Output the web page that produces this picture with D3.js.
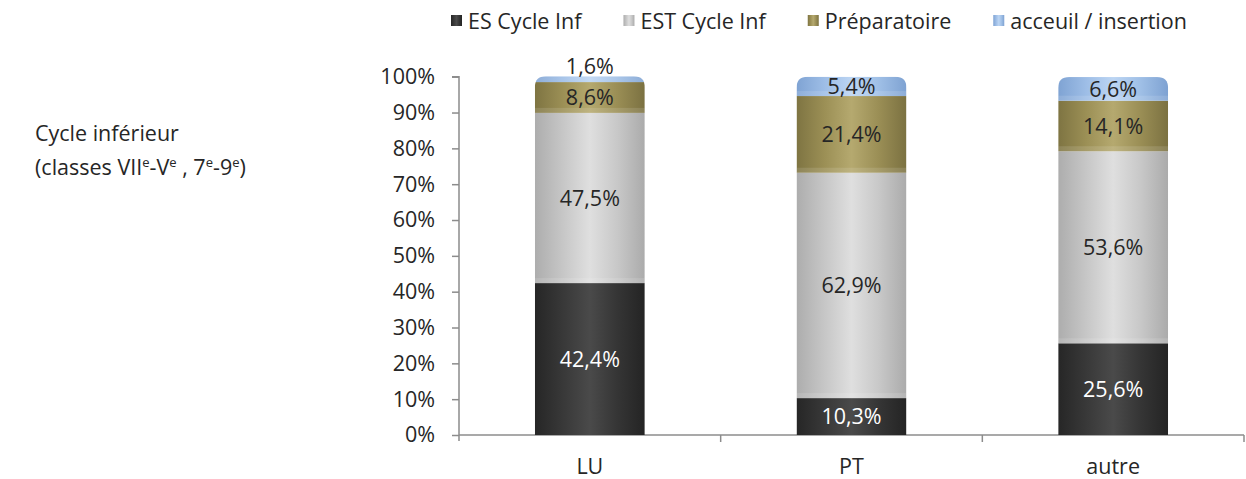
<!DOCTYPE html>
<html><head><meta charset="utf-8">
<script src="https://cdn.jsdelivr.net/npm/d3@7/dist/d3.min.js"></script>
<style>
body{margin:0;background:#fff;}
text{font-family:"Open Sans",sans-serif;fill:#262626;}
</style></head>
<body><svg id="c" width="1246" height="479"></svg>
<script>
const categories = ["LU","PT","autre"];
const seriesNames = ["ES Cycle Inf","EST Cycle Inf","Préparatoire","acceuil / insertion"];
const esCycleInf = [42.4, 10.3, 25.6];
const estCycleInf = [47.5, 62.9, 53.6];
const preparatoire = [8.6, 21.4, 14.1];
const accueil = [1.6, 5.4, 6.6];
const yTicks = [0,10,20,30,40,50,60,70,80,90,100];

const seriesValues = [esCycleInf, estCycleInf, preparatoire, accueil];
const grads = [
  ["#262626","#383838","#4a4a4a","#353535","#242424"],
  ["#adadad","#c6c6c6","#dfdfdf","#c8c8c8","#ababab"],
  ["#7e7442","#9b8f55","#b5a96f","#9a8e55","#7b7141"],
  ["#7fa3d3","#9dbde6","#bcd5f3","#9fbfe6","#7ea2d2"]
];
const labelColors = ["#ffffff","#262626","#262626","#262626"];
const FS = "21.5px";

const svg = d3.select("#c");
const defs = svg.append("defs");
grads.forEach((g,i)=>{
  const lg = defs.append("linearGradient").attr("id","g"+i).attr("x1","0").attr("x2","1").attr("y1","0").attr("y2","0");
  g.forEach((c,j)=>lg.append("stop").attr("offset",(j/(g.length-1)*100)+"%").attr("stop-color",c));
});

const x0 = 459, x1 = 1244, yTop = 76.7, yBot = 435;
const x = d3.scaleBand().domain(categories).range([x0,x1]).paddingInner(0.58).paddingOuter(0.29);
const y = d3.scaleLinear().domain([0,100]).range([yBot,yTop]);

// y axis
const yAxis = d3.axisLeft(y).tickValues(yTicks).tickFormat(d=>d+"%").tickSize(7).tickPadding(17);
const gy = svg.append("g").attr("transform",`translate(${x0},0)`).call(yAxis);
gy.select(".domain").attr("stroke","#8c8c8c").attr("stroke-width",1.5).attr("d",`M-7,${yTop}H0V${yBot+6}`);
gy.selectAll(".tick line").attr("stroke","#8c8c8c").attr("stroke-width",1.5);
gy.selectAll(".tick text").attr("font-size",FS).attr("fill","#262626").attr("font-family","Open Sans");

// x axis
const gx = svg.append("g").attr("transform",`translate(0,${yBot})`);
gx.append("line").attr("x1",x0).attr("x2",x1).attr("stroke","#8c8c8c").attr("stroke-width",1.5);
categories.forEach((c,i)=>{
  const bx = x0 + (i+1)*(x1-x0)/categories.length;
  gx.append("line").attr("x1",bx).attr("x2",bx).attr("y1",0).attr("y2",7).attr("stroke","#8c8c8c").attr("stroke-width",1.5);
});
gx.selectAll("text.cat").data(categories).join("text").attr("class","cat")
  .attr("x",d=>x(d)+x.bandwidth()/2).attr("y",39).attr("text-anchor","middle")
  .attr("font-size",FS).text(d=>d);

// stacked data
const rows = categories.map((c,i)=>{const r={cat:c}; seriesNames.forEach((s,k)=>r[s]=seriesValues[k][i]); return r;});
const stack = d3.stack().keys(seriesNames)(rows);

// clip per bar with rounded top
categories.forEach((c,i)=>{
  const total = d3.sum(seriesValues, s=>s[i]);
  const bx = x(c), bw = x.bandwidth(), ty = y(total), by = y(0), r = 11;
  defs.append("clipPath").attr("id","clip"+i).append("path")
    .attr("d",`M${bx},${by}V${ty+r}Q${bx},${ty} ${bx+r},${ty}H${bx+bw-r}Q${bx+bw},${ty} ${bx+bw},${ty+r}V${by}Z`);
});

const gBars = svg.append("g");
categories.forEach((c,i)=>{
  const gb = gBars.append("g").attr("clip-path",`url(#clip${i})`);
  stack.forEach((layer,k)=>{
    const d = layer[i];
    const h = y(d[0])-y(d[1]);
    gb.append("rect").attr("x",x(c)).attr("width",x.bandwidth())
      .attr("y",y(d[1])).attr("height",h).attr("fill",`url(#g${k})`);
    // soft light band at segment bottom (cylinder rim)
    if (k > 0) gb.append("rect").attr("x",x(c)).attr("width",x.bandwidth())
      .attr("y",y(d[0])-Math.min(5,h)).attr("height",Math.min(5,h)).attr("fill","#ffffff").attr("opacity",0.12);
  });
});

// labels
stack.forEach((layer,k)=>{
  layer.forEach((d,i)=>{
    const c = categories[i];
    const h = y(d[0])-y(d[1]);
    let cy = (y(d[0])+y(d[1]))/2;
    if (h < 10) cy = y(d[1]) - 10;
    svg.append("text").attr("x",x(c)+x.bandwidth()/2).attr("y",cy).attr("dy","0.36em")
      .attr("text-anchor","middle").attr("font-size",FS).style("fill",labelColors[k])
      .text(d3.format(".1f")(seriesValues[k][i]).replace(".",",")+"%");
  });
});

// legend
const lg = svg.append("g");
let lx = 451;
seriesNames.forEach((s,k)=>{
  lg.append("rect").attr("x",lx).attr("y",15).attr("width",11).attr("height",11).attr("fill",`url(#g${k})`);
  const t = lg.append("text").attr("x",lx+17).attr("y",29).attr("font-size",FS).text(s);
  lx += 17 + t.node().getComputedTextLength() + 42;
});

// left caption
const cap = svg.append("g");
cap.append("text").attr("x",35).attr("y",141).attr("font-size",FS).text("Cycle inférieur");
const t2 = cap.append("text").attr("x",35).attr("y",175).attr("font-size",FS);
const sup = (txt)=>{ t2.append("tspan").attr("font-size","13px").attr("dy","-8").text(txt); };
const norm = (txt)=>{ t2.append("tspan").attr("dy","8").text(txt); };
t2.append("tspan").text("(classes VII");
sup("e"); norm("-V"); sup("e"); norm(" , 7"); sup("e"); norm("-9"); sup("e"); norm(")");
</script></body></html>
